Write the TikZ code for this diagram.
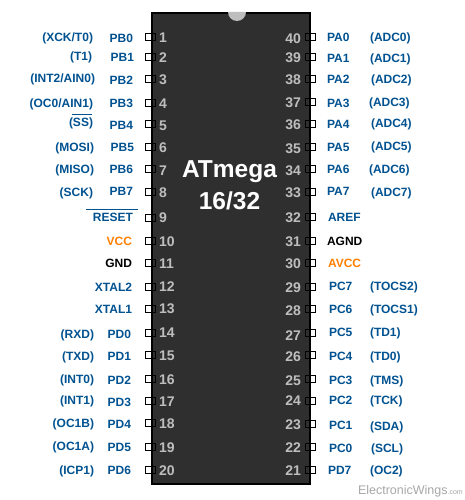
\documentclass[tikz,border=0pt]{standalone}
\usepackage{fontspec}
\setmainfont{Liberation Sans}
\definecolor{pinblue}{HTML}{005291}
\definecolor{pinorange}{HTML}{FF8000}
\definecolor{chipfill}{HTML}{2F2F2F}
\definecolor{numgrey}{HTML}{BEBEBE}
\definecolor{markgrey}{HTML}{A8A8A8}
\tikzset{
  chipbody/.style={draw=black,line width=2pt,fill=chipfill},
  pinbox/.style={draw=black,line width=1pt,fill=none,minimum width=10.5pt,minimum height=7.5pt,inner sep=0pt,outer sep=0pt},
  txt/.style={inner sep=0pt,outer sep=0pt,text height=8.6pt,text depth=0pt,font=\bfseries\fontsize{12}{12}\selectfont,text=pinblue},
  pinnum/.style={txt,text=numgrey,font=\bfseries\fontsize{14}{14}\selectfont,text height=10pt},
  title/.style={inner sep=0pt,text=white,font=\bfseries\fontsize{24.5}{26}\selectfont},
}
\begin{document}
\begin{tikzpicture}[x=1pt,y=-1pt]
\useasboundingbox (0,0) rectangle (465,500);
\fill[white] (0,0) rectangle (465,500);
\draw[chipbody] (152,13) rectangle (310,484);
\fill[numgrey] (228,12) arc[start angle=180,end angle=0,radius=9] -- cycle;
\node[title] (t1) at (229.5,172) {ATmega};
\node[title] (t2) at (229.5,201) {16/32};
% left side: number/box y/number y/name right x/name y/name/alt right x/alt y/alt
\foreach \n/\by/\ny/\nx/\nyy/\nm/\ax/\ay/\alt in {
 1/37/38/133/38/PB0/93/37/{(XCK/T0)},
 2/57/58/134/57/PB1/92/56/(T1),
 3/79/80/133/80/PB2/95/78/{(INT2/AIN0)},
 4/103/104/133/103/PB3/93/103/{(OC0/AIN1)},
 5/124/125/133/125/PB4/93/122/(SS),
 6/147/147/134/147/PB5/94/147/(MOSI),
 7/169/170/133/169/PB6/94/169/(MISO),
 8/192/192/133/191/PB7/93/192/(SCK),
 9/218/217/133/217/{RESET}/0/0/{},
 10/241/241/132/241/{\textcolor{pinorange}{VCC}}/0/0/{},
 11/263/263/132/263/{\textcolor{black}{GND}}/0/0/{},
 12/287/286/132/287/XTAL2/0/0/{},
 13/309/308/132/309/XTAL1/0/0/{},
 14/333/332/131/334/PD0/94/334/(RXD),
 15/355/355/131/356/PD1/94/356/(TXD),
 16/379/379/131/380/PD2/94/379/(INT0),
 17/401/401/131/402/PD3/94/400/(INT1),
 18/423/423/131/424/PD4/94/423/(OC1B),
 19/447/447/131/447/PD5/94/446/(OC1A),
 20/470/470/131/470/PD6/94/470/(ICP1)}{
  \node[pinbox] (L\n) at (150.5,\by) {};
  \node[pinnum,anchor=west] (Ln\n) at (159,\ny) {\n};
  \node[txt,anchor=east] (Lname\n) at (\nx,\nyy) {\nm};
  \ifnum\ax>0 \node[txt,anchor=east] (Lalt\n) at (\ax,\ay) {\alt};\fi
}
% right side
\foreach \n/\by/\ny/\nm/\nyy/\nx/\ax/\ay/\alt in {
 40/37/39/PA0/37/327/370/37/(ADC0),
 39/57/58/PA1/58/327/370/58/(ADC1),
 38/79/80/PA2/79/327/371/79/(ADC2),
 37/102/102/PA3/103/327/369/102/(ADC3),
 36/124/124/PA4/124/327/371/123/(ADC4),
 35/147/148/PA5/147/327/371/146/(ADC5),
 34/169/170/PA6/169/327/369/169/(ADC6),
 33/192/192/PA7/191/327/371/192/(ADC7),
 32/217/217/{AREF}/217/328/0/0/{},
 31/241/241/{\textcolor{black}{AGND}}/241/327/0/0/{},
 30/263/263/{\textcolor{pinorange}{AVCC}}/263/328/0/0/{},
 29/287/287/PC7/286/329/370/286/(TOCS2),
 28/309/310/PC6/309/329/370/309/(TOCS1),
 27/333/335/PC5/332/329/370/332/(TD1),
 26/355/356/PC4/356/329/370/356/(TD0),
 25/379/380/PC3/380/329/370/380/(TMS),
 24/401/400/PC2/400/329/370/400/(TCK),
 23/424/424/PC1/425/329/370/426/(SDA),
 22/447/447/PC0/448/329/371/448/(SCL),
 21/470/470/PD7/470/328/370/470/(OC2)}{
  \node[pinbox] (R\n) at (310.5,\by) {};
  \node[pinnum,anchor=east] (Rn\n) at (301,\ny) {\n};
  \node[txt,anchor=west] (Rname\n) at (\nx,\nyy) {\nm};
  \ifnum\ax>0 \node[txt,anchor=west] (Ralt\n) at (\ax,\ay) {\alt};\fi
}
\draw[pinblue,line width=1pt] (86,209.7) -- (138,209.7);
\draw[pinblue,line width=1pt] (72,114.5) -- (92,114.5);
\node[inner sep=0pt,text=markgrey,anchor=east] (mark) at (463,491) {\fontsize{12.5}{13}\selectfont ElectronicWings\fontsize{7}{8}\selectfont .com};
\end{tikzpicture}
\end{document}
